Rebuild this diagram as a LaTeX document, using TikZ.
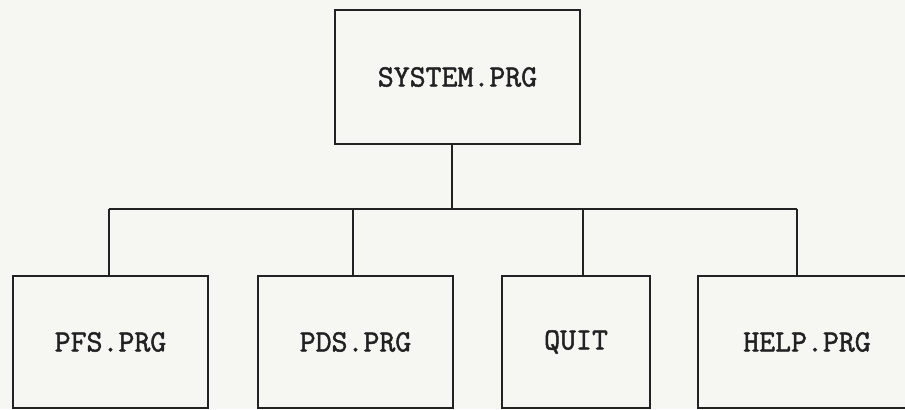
\documentclass[tikz,border=0pt]{standalone}
\usepackage{fontspec}
\usepackage{tikz}
\usetikzlibrary{positioning}
\newfontfamily\progfont[AutoFakeBold=1.6]{Latin Modern Mono}
\definecolor{paper}{RGB}{246,246,243}
\definecolor{ink}{RGB}{34,34,34}

\begin{document}
\begin{tikzpicture}[
    x=0.025cm, y=-0.025cm,
    prog/.style={
        draw=ink,
        line width=1.9pt,
        font=\fontsize{22}{24}\selectfont\progfont\bfseries,
        text=ink,
        inner sep=0pt,
        minimum height=3.3cm
    },
    link/.style={draw=ink, line width=1.9pt}
]

% PAGE
\fill[paper] (0,0) rectangle (905,409);
\useasboundingbox (0,0) rectangle (905,409);

% ROOT
\node[prog, minimum width=6.125cm, minimum height=3.35cm] (system) at (457.5,77)
{SYSTEM.PRG};

% MODULES
\node[prog, minimum width=4.875cm] (pfs)  at (110.5,342) {PFS.PRG};
\node[prog, minimum width=4.875cm] (pds)  at (355.5,342) {PDS.PRG};
\node[prog, minimum width=3.7cm]   (quit) at (576,342)   {QUIT};
\node[prog, minimum width=5.45cm]  (help) at (807,342)   {HELP.PRG};

% BUS
\coordinate (bus) at (452,209);
\coordinate (b1) at (109,209);
\coordinate (b2) at (353,209);
\coordinate (b3) at (583,209);
\coordinate (b4) at (797,209);

\draw[link] (system.south -| bus) -- (bus);
\draw[link] (b1) -- (b4);
\foreach \b/\m in {b1/pfs, b2/pds, b3/quit, b4/help}
    \draw[link] (\b) -- (\b |- \m.north);

\end{tikzpicture}
\end{document}
